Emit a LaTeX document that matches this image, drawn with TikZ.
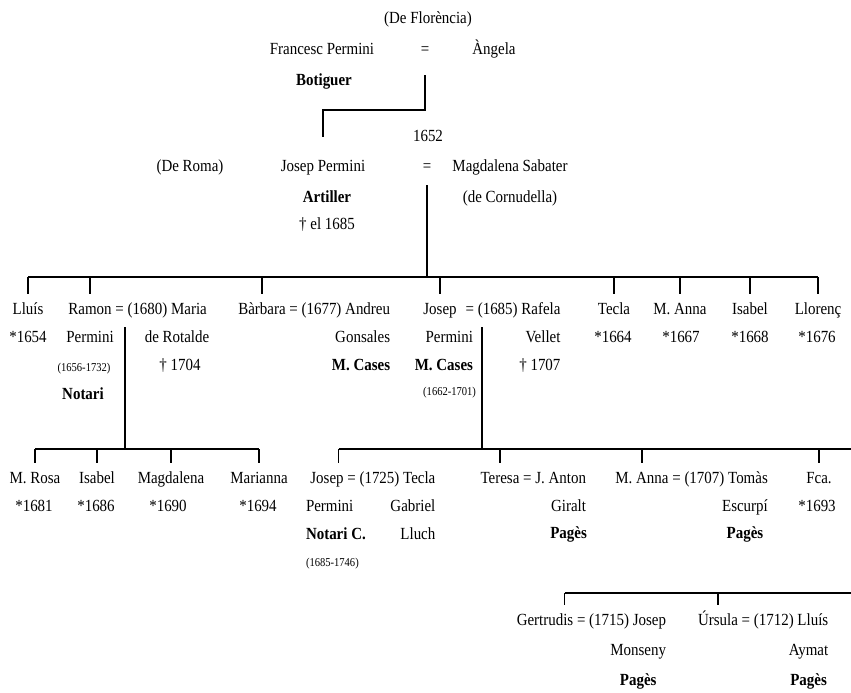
\documentclass[tikz,border=0pt]{standalone}
\usepackage{fontspec}
\setmainfont[FakeStretch=0.88]{Liberation Serif}
\usetikzlibrary{positioning,calc}
\begin{document}
\begin{tikzpicture}[x=1pt,y=1pt,
  every node/.style={inner sep=0pt,outer sep=0pt,font=\fontsize{17}{19}\selectfont,text height=12pt,text depth=3.5pt},
  bf/.style={font=\fontsize{17}{19}\selectfont\bfseries},
  sm/.style={font=\fontsize{12}{13}\selectfont,text height=8.5pt,text depth=2.5pt},
  ln/.style={line width=1.4pt},
  tk/.style={line width=1.1pt,shorten >=8pt}]
\useasboundingbox (0,0) rectangle (851,-693);
% ---------- generation 0 ----------
\node (flor) at (428,-19) {(De Florència)};
\node (francesc) at (322,-50) {Francesc Permini};
\node (eqa) at (425,-50) {=};
\node (angela) at (494,-50) {Àngela};
\node[bf] (botiguer) at (324,-81) {Botiguer};
% ---------- generation 1 ----------
\node (any) at (428,-137) {1652};
\node (roma) at (190,-167) {(De Roma)};
\node (josepP) at (323,-167) {Josep Permini};
\node (eqb) at (427,-167) {=};
\node (magda) at (510,-167) {Magdalena Sabater};
\node[bf] (artiller) at (327,-198) {Artiller};
\node (cornu) at (510,-198) {(de Cornudella)};
\node (mortJ) at (327,-225) {† el 1685};
\coordinate (ja) at (425,-75);
\coordinate (jb) at (josepP.north |- 0,-110);
\draw[ln] (ja) |- (jb) -- (jb |- any);
\coordinate (b1) at (0,-277);
\coordinate (jc) at (427,-185);
\draw[ln] (jc) -- (jc |- b1);
% ---------- generation 2 ----------
\node (lluis) at (28,-310) {Lluís};
\node (lluisn) at (28,-338) {*1654};
\node (ramon) at (90,-310) {Ramon};
\node[right=3.75pt of ramon] (maria) {= (1680) Maria};
\node (ramonP) at (90,-338) {Permini};
\node[sm] (ramonD) at (84,-368) {(1656-1732)};
\node[bf] (notari) at (83,-395) {Notari};
\node (rotalde) at (177,-338) {de Rotalde};
\node (mortM) at (180,-366) {† 1704};
\node (barbara) at (262,-310) {Bàrbara};
\node[right=3.75pt of barbara] (andreu) {= (1677) Andreu};
\node[anchor=east] (gonsales) at (andreu.east |- 0,-338) {Gonsales};
\node[bf,anchor=east] (mcasesA) at (andreu.east |- 0,-366) {M. Cases};
\node (josepB) at (440,-310) {Josep};
\node[right=9pt of josepB] (rafela) {= (1685) Rafela};
\node[anchor=east] (josepBP) at (473,-338) {Permini};
\node[bf,anchor=east] (mcasesB) at (473,-366) {M. Cases};
\node[sm,anchor=east] (josepBD) at (476,-392) {(1662-1701)};
\node[anchor=east] (vellet) at (rafela.east |- 0,-338) {Vellet};
\node[anchor=east] (mortR) at (rafela.east |- 0,-366) {† 1707};
\node (tecla) at (614,-310) {Tecla};
\node (teclan) at (613,-338) {*1664};
\node (manna) at (680,-310) {M. Anna};
\node (mannan) at (681,-338) {*1667};
\node (isabel) at (750,-310) {Isabel};
\node (isabeln) at (750,-338) {*1668};
\node (llorenc) at (818,-310) {Llorenç};
\node (llorencn) at (817,-338) {*1676};
\draw[ln] (lluis.north |- b1) -- (llorenc.north |- b1);
\foreach \n in {lluis,ramon,barbara,josepB,tecla,manna,isabel,llorenc}
  \draw[tk] (\n.north |- b1) -- (\n.north);
\coordinate (b2) at (0,-449);
\coordinate (b2e) at (851,-449);
\coordinate (rv) at (125,-327);
\draw[ln] (rv) -- (rv |- b2);
\coordinate (jv) at (482,-327);
\draw[ln] (jv) -- (jv |- b2);
% ---------- generation 3 (Ramon) ----------
\node (mrosa) at (35,-479) {M. Rosa};
\node (mrosan) at (34,-507) {*1681};
\node (isabelb) at (97,-479) {Isabel};
\node (isabelbn) at (96,-507) {*1686};
\node (magdb) at (171,-479) {Magdalena};
\node (magdbn) at (168,-507) {*1690};
\node (marianna) at (259,-479) {Marianna};
\node (mariannan) at (258,-507) {*1694};
\draw[ln] (mrosa.north |- b2) -- (marianna.north |- b2);
\foreach \n in {mrosa,isabelb,magdb,marianna}
  \draw[tk] (\n.north |- b2) -- (\n.north);
% ---------- generation 3 (Josep) ----------
\node (josepC) at (327,-479) {Josep};
\node[right=3.75pt of josepC] (teclab) {= (1725) Tecla};
\node[anchor=west] (permC) at (306,-507) {Permini};
\node[bf,anchor=west] (notariC) at (306,-535) {Notari C.};
\node[sm,anchor=west] (datesC) at (306,-563) {(1685-1746)};
\node[anchor=east] (gabriel) at (teclab.east |- 0,-507) {Gabriel};
\node[anchor=east] (lluch) at (teclab.east |- 0,-535) {Lluch};
\node (teresa) at (500,-479) {Teresa};
\node[right=3.75pt of teresa] (anton) {= J. Anton};
\node[anchor=east] (giralt) at (anton.east |- 0,-507) {Giralt};
\node[bf] (pagesA) at (giralt.center |- 0,-534) {Pagès};
\node (mannab) at (642,-479) {M. Anna};
\node[right=3.75pt of mannab] (tomas) {= (1707) Tomàs};
\node[anchor=east] (escurpi) at (tomas.east |- 0,-507) {Escurpí};
\node[bf] (pagesB) at (escurpi.center |- 0,-534) {Pagès};
\node (fca) at (819,-479) {Fca.};
\node (fcan) at (817,-507) {*1693};
\coordinate (jct) at ($(josepC.north)!0.7!(josepC.north east)$);
\draw[ln] (jct |- b2) -- (b2e);
\draw[tk] (jct |- b2) -- (jct);
\foreach \n in {teresa,mannab,fca}
  \draw[tk] (\n.north |- b2) -- (\n.north);
% ---------- generation 4 ----------
\coordinate (b3e) at (851,-593);
\node (gert) at (545,-621) {Gertrudis};
\node[right=3.75pt of gert] (josepM) {= (1715) Josep};
\node[anchor=east] (monseny) at (josepM.east |- 0,-651) {Monseny};
\node[bf] (pagesC) at (monseny.center |- 0,-681) {Pagès};
\node (ursula) at (718,-621) {Úrsula};
\node[right=3.75pt of ursula] (lluisA) {= (1712) Lluís};
\node[anchor=east] (aymat) at (lluisA.east |- 0,-651) {Aymat};
\node[bf] (pagesD) at (aymat.center |- 0,-681) {Pagès};
\coordinate (gct) at ($(gert.north)!0.7!(gert.north east)$);
\draw[ln] (gct |- b3e) -- (b3e);
\draw[tk] (gct |- b3e) -- (gct);
\draw[tk] (ursula.north |- b3e) -- (ursula.north);
\end{tikzpicture}
\end{document}
